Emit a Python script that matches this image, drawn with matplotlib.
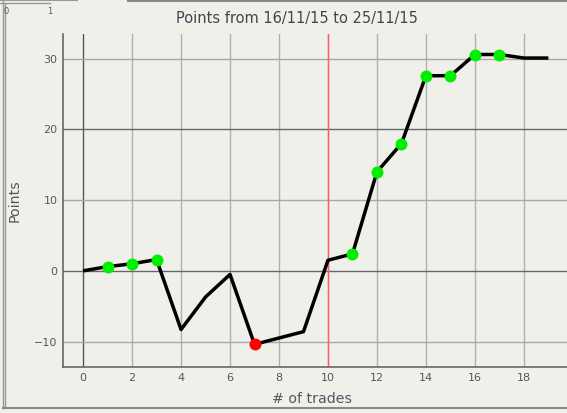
import numpy as np
import matplotlib.pyplot as plt
from matplotlib.lines import Line2D

# donnees
trades = [0, 1, 2, 3, 4, 5, 6, 7, 8, 9, 10, 11, 12, 13, 14, 15, 16, 17, 18, 19]
points = [0, 0.6, 1.0, 1.6, -8.3, -3.7, -0.5, -10.4, -9.5, -8.6, 1.5, 2.4,
          14.0, 18.0, 27.6, 27.6, 30.6, 30.6, 30.1, 30.1]
green_idx = [1, 2, 3, 11, 12, 13, 14, 15, 16, 17]
red_idx = [7]
x_ticks = [0, 2, 4, 6, 8, 10, 12, 14, 16, 18]
y_ticks = [-10, 0, 10, 20, 30]
title = 'Points from 16/11/15 to 25/11/15'

bg = '#f0f0ea'
txt = '#555560'

fig = plt.figure(figsize=(5.67, 4.13), dpi=100, facecolor=bg)
ax = fig.add_axes([63/567, 46/413, 504/567, 333/413], facecolor=bg)

ax.set_xlim(-0.82, 19.76)
ax.set_ylim(-13.6, 33.5)

# grille
for x in x_ticks:
    c = '#555555' if x == 0 else '#b0b0b0'
    ax.axvline(x, color=c, lw=1, zorder=1)
for y in y_ticks:
    c = '#666666' if y in (0, 20) else '#a8a8a8'
    ax.axhline(y, color=c, lw=1, zorder=1)
ax.axvline(10, color='#ff5a6e', lw=1, zorder=2)

ax.plot(trades, points, color='black', lw=2.5, zorder=3, solid_capstyle='butt')
ax.plot([trades[i] for i in green_idx], [points[i] for i in green_idx], 'o',
        color='#00ee00', ms=8.6, mec='none', zorder=4)
ax.plot([trades[i] for i in red_idx], [points[i] for i in red_idx], 'o',
        color='#ff0000', ms=8.6, mec='none', zorder=4)

ax.set_xticks(x_ticks)
ax.set_yticks(y_ticks)
ax.tick_params(length=0, labelsize=8, labelcolor=txt, pad=4)
for s in ['top', 'right']:
    ax.spines[s].set_visible(False)
for s in ['left', 'bottom']:
    ax.spines[s].set_color('#666666')
    ax.spines[s].set_linewidth(1.2)

ax.set_xlabel('# of trades', fontsize=10.2, color=txt)
ax.set_ylabel('Points', fontsize=10.2, color=txt)
ax.xaxis.set_label_coords((312 - 63) / 504, (367 - 392) / 333)
ax.yaxis.set_label_coords((22 - 63) / 504, 0.5)
fig.text(297/567, 0.956, title, ha='center', va='center', fontsize=10.5, color='#444450')

# cadre de la fenetre
fig.add_artist(Line2D([3/567, 3/567], [0.012, 1], color='#999999', lw=1))
fig.add_artist(Line2D([5/567, 5/567], [0.012, 0.99], color='#999999', lw=1))
fig.add_artist(Line2D([3/567, 1], [0.012, 0.012], color='#888888', lw=1.5))
fig.add_artist(Line2D([0, 50/567], [0.993, 0.993], color='#999999', lw=1))
fig.add_artist(Line2D([0, 77/567], [0.999, 0.999], color='#999999', lw=1.5))
fig.add_artist(Line2D([128/567, 1], [0.998, 0.998], color='#888888', lw=1.5))
fig.text(6/567, 0.972, '0', fontsize=6, color=txt, ha='center', va='center')
fig.text(50/567, 0.972, '1', fontsize=6, color=txt, ha='center', va='center')

plt.savefig('out.png', dpi=100, facecolor=bg)
